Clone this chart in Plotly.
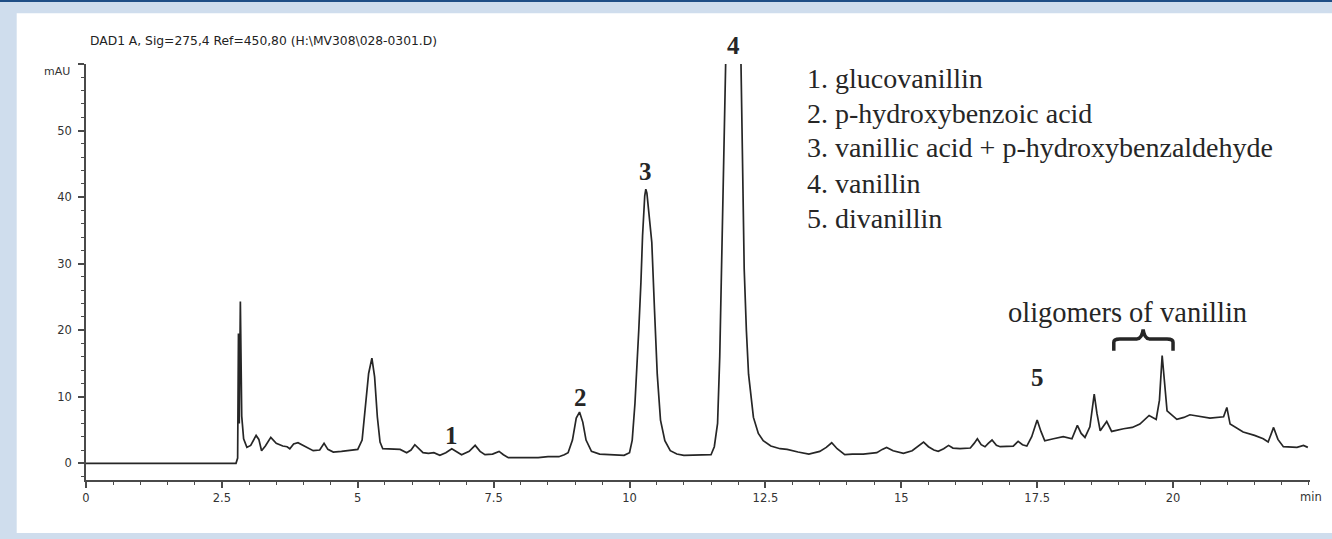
import plotly.graph_objects as go

# ---------------- data ----------------
time_min = [
    0.00, 2.76, 2.79, 2.805, 2.82, 2.84, 2.865, 2.90, 2.96, 3.03, 3.13, 3.18, 3.23, 3.30, 3.40,
    3.50, 3.62, 3.70, 3.75, 3.82, 3.90, 4.00, 4.10, 4.18, 4.30, 4.38, 4.45, 4.55, 4.70, 4.85,
    5.00, 5.08, 5.14, 5.20, 5.26, 5.31, 5.36, 5.41, 5.46, 5.60, 5.78, 5.90, 5.98, 6.05, 6.12,
    6.20, 6.30, 6.40, 6.51, 6.62, 6.73, 6.82, 6.91, 7.05, 7.16, 7.25, 7.34, 7.48, 7.60, 7.68,
    7.77, 8.00, 8.32, 8.50, 8.70, 8.80, 8.87, 8.95, 9.02, 9.08, 9.14, 9.20, 9.30, 9.45, 9.70,
    9.90, 10.00, 10.05, 10.10, 10.13, 10.17, 10.21, 10.24, 10.28, 10.30, 10.32, 10.36, 10.41,
    10.46, 10.51, 10.57, 10.65, 10.75, 10.87, 11.00, 11.30, 11.50, 11.56, 11.62, 11.66, 11.68,
    11.71, 11.74, 11.77, 11.90, 12.05, 12.08, 12.11, 12.15, 12.19, 12.28, 12.37, 12.46, 12.60,
    12.77, 12.90, 13.10, 13.30, 13.50, 13.62, 13.72, 13.82, 13.96, 14.10, 14.30, 14.55, 14.65,
    14.73, 14.85, 15.04, 15.20, 15.32, 15.41, 15.50, 15.60, 15.68, 15.78, 15.87, 15.95, 16.08,
    16.27, 16.34, 16.40, 16.47, 16.54, 16.60, 16.67, 16.75, 16.82, 17.06, 17.15, 17.23, 17.31,
    17.40, 17.50, 17.57, 17.64, 17.80, 17.98, 18.14, 18.24, 18.31, 18.38, 18.47, 18.55, 18.60,
    18.66, 18.78, 18.87, 19.09, 19.25, 19.39, 19.56, 19.69, 19.75, 19.80, 19.85, 19.89, 20.07,
    20.20, 20.31, 20.50, 20.68, 20.93, 20.99, 21.05, 21.29, 21.50, 21.66, 21.75, 21.85, 21.93,
    22.03, 22.28, 22.40, 22.48,
]
signal_mau = [
    0.0, 0.0, 0.8, 19.5, 6.0, 24.3, 7.1, 3.7, 2.4, 2.7, 4.2, 3.6, 1.9, 2.6, 3.9,
    3.0, 2.6, 2.5, 2.2, 2.9, 3.1, 2.7, 2.3, 1.9, 2.0, 3.0, 2.1, 1.7, 1.8, 1.9,
    2.1, 3.5, 8.0, 13.5, 15.8, 13.0, 7.0, 3.2, 2.2, 2.2, 2.1, 1.6, 2.0, 2.8, 2.2,
    1.6, 1.5, 1.6, 1.2, 1.6, 2.2, 1.8, 1.3, 1.8, 2.7, 1.8, 1.3, 1.4, 1.8, 1.3,
    0.85, 0.85, 0.85, 1.0, 1.0, 1.3, 1.6, 3.5, 6.8, 7.7, 6.2, 3.5, 1.8, 1.4, 1.3,
    1.2, 1.6, 3.5, 9.0, 13.4, 20.0, 27.2, 34.2, 40.2, 41.2, 40.6, 37.5, 33.2,
    23.0, 13.4, 6.5, 3.4, 1.9, 1.4, 1.2, 1.2, 1.3, 2.5, 6.0, 16.0, 23.3,
    35.7, 50.0, 60.5, 75.0, 60.5, 45.0, 29.2, 20.0, 13.4, 6.9, 4.5, 3.4, 2.6,
    2.2, 2.1, 1.7, 1.4, 1.8, 2.4, 3.1, 2.2, 1.3, 1.4, 1.4, 1.6, 2.1,
    2.4, 1.9, 1.5, 1.9, 2.7, 3.2, 2.5, 2.0, 1.8, 2.2, 2.7, 2.3, 2.2,
    2.3, 3.0, 3.7, 2.8, 2.5, 3.0, 3.5, 2.7, 2.5, 2.6, 3.3, 2.8, 2.6,
    4.0, 6.5, 4.8, 3.4, 3.7, 4.0, 3.7, 5.7, 4.5, 3.9, 5.5, 10.4, 7.5,
    4.9, 6.3, 4.8, 5.2, 5.4, 5.9, 7.2, 6.6, 9.5, 16.2, 11.0, 7.9, 6.6,
    6.9, 7.3, 7.0, 6.8, 7.0, 8.4, 5.9, 4.7, 4.2, 3.7, 3.2, 5.4, 3.6,
    2.5, 2.4, 2.7, 2.4,
]

x_tick_values = [0, 2.5, 5, 7.5, 10, 12.5, 15, 17.5, 20]
x_tick_labels = ["0", "2.5", "5", "7.5", "10", "12.5", "15", "17.5", "20"]
y_tick_values = [0, 10, 20, 30, 40, 50, 60]
y_tick_labels = ["0", "10", "20", "30", "40", "50", ""]

peak_numbers = ["1", "2", "3", "4", "5"]
compound_names = [
    "1. glucovanillin",
    "2. p-hydroxybenzoic acid",
    "3. vanillic acid + p-hydroxybenzaldehyde",
    "4. vanillin",
    "5. divanillin",
]
header_text = "DAD1 A, Sig=275,4 Ref=450,80 (H:\\MV308\\028-0301.D)"

# ---------------- geometry helpers ----------------
W, H = 1332, 539
PL, PR, PT, PB = 86, 1310, 64, 480  # plot area in pixels


def px_x(px):
    return (px - PL) / (PR - PL)


def px_y(py):
    return (PB - py) / (PB - PT)


INK = "#262626"
AX = "#4a4a4a"
SERIF = "Liberation Serif, Times New Roman, serif"
SANS = "DejaVu Sans, Arial, sans-serif"
FRAME = "#cfdded"

fig = go.Figure()
fig.add_trace(go.Scatter(x=time_min, y=signal_mau, mode="lines",
                         line=dict(color=INK, width=1.7), hoverinfo="skip",
                         showlegend=False))

shapes = [
    # white panel
    dict(type="rect", xref="paper", yref="paper", x0=px_x(16.7), x1=px_x(1340),
         y0=px_y(533), y1=px_y(13.3), fillcolor="white", line=dict(width=0), layer="below"),
    # dark blue top rule
    dict(type="rect", xref="paper", yref="paper", x0=px_x(-5), x1=px_x(1340),
         y0=px_y(2), y1=px_y(-3), fillcolor="#1f4e86", line=dict(width=0), layer="below"),
    # curly brace over oligomers
    dict(type="path", xref="x", yref="y",
         path="M 18.91,16.9 L 18.91,18.2 Q 18.91,18.7 19.02,18.7 L 19.34,18.7 "
              "Q 19.43,18.8 19.45,20.1 Q 19.47,18.8 19.56,18.7 L 19.89,18.7 "
              "Q 20.0,18.7 20.0,18.2 L 20.0,16.9",
         line=dict(color=INK, width=3.5)),
]

annotations = [
    dict(xref="paper", yref="paper", x=px_x(88), y=px_y(41), xanchor="left", yanchor="middle",
         text=header_text, showarrow=False, font=dict(family=SANS, size=12.3, color="#222")),
    dict(xref="x", yref="y", x=0, y=60, xanchor="right", yanchor="middle", xshift=-14, yshift=-7,
         text="mAU", showarrow=False, font=dict(family=SANS, size=11, color="#333")),
    dict(xref="paper", yref="paper", x=px_x(1298), y=px_y(497), xanchor="left", yanchor="middle",
         text="min", showarrow=False, font=dict(family=SANS, size=11.5, color="#333")),
    dict(xref="x", yref="y", x=19.16, y=22.6, xanchor="center", yanchor="middle",
         text="oligomers of vanillin", showarrow=False, font=dict(family=SERIF, size=28.5, color=INK)),
]

# peak number labels (label 4 sits above the plot area, so it uses paper y)
peak_label_pos = [(6.73, 4.2), (9.10, 9.9), (10.30, 43.8), (11.92, None), (17.51, 12.9)]
for lab, (lx, ly) in zip(peak_numbers, peak_label_pos):
    if ly is None:
        yref, yv = "paper", px_y(45)
    else:
        yref, yv = "y", ly
    annotations.append(dict(xref="x", yref=yref, x=lx, y=yv, xanchor="center", yanchor="middle",
                            text=f"<b>{lab}</b>", showarrow=False,
                            font=dict(family=SERIF, size=25, color=INK)))

# compound list
for i, name in enumerate(compound_names):
    annotations.append(dict(xref="paper", yref="paper", x=px_x(805), y=px_y(78 + 35 * i),
                            xanchor="left", yanchor="middle", text=name, showarrow=False,
                            font=dict(family=SERIF, size=28, color=INK)))

fig.update_layout(
    width=W, height=H,
    margin=dict(l=PL, r=W - PR, t=PT, b=H - PB, pad=0),
    paper_bgcolor=FRAME, plot_bgcolor="white",
    shapes=shapes, annotations=annotations, showlegend=False,
)
fig.update_xaxes(range=[0, 22.52], showgrid=False, zeroline=False,
                 showline=True, linecolor=AX, linewidth=1.5,
                 tickmode="array", tickvals=x_tick_values, ticktext=x_tick_labels,
                 ticks="outside", ticklen=6, tickwidth=1.5, tickcolor=AX,
                 minor=dict(dtick=0.5, tick0=0, ticks="outside", ticklen=3, tickwidth=1.2, tickcolor=AX),
                 tickfont=dict(family=SANS, size=11.5, color="#333"))
fig.update_yaxes(range=[-2.5, 60], showgrid=False, zeroline=False,
                 showline=True, linecolor=AX, linewidth=1.5,
                 tickmode="array", tickvals=y_tick_values, ticktext=y_tick_labels,
                 ticks="outside", ticklen=6, tickwidth=1.5, tickcolor=AX, ticklabelstandoff=4,
                 minor=dict(dtick=2, tick0=0, ticks="outside", ticklen=3, tickwidth=1.2, tickcolor=AX),
                 tickfont=dict(family=SANS, size=11.5, color="#333"))

fig.write_html(
    "out.html",
    config={"displayModeBar": False},
    post_script="document.body.style.margin='0';document.body.style.overflow='hidden';"
                "document.body.style.background='" + FRAME + "';",
)
